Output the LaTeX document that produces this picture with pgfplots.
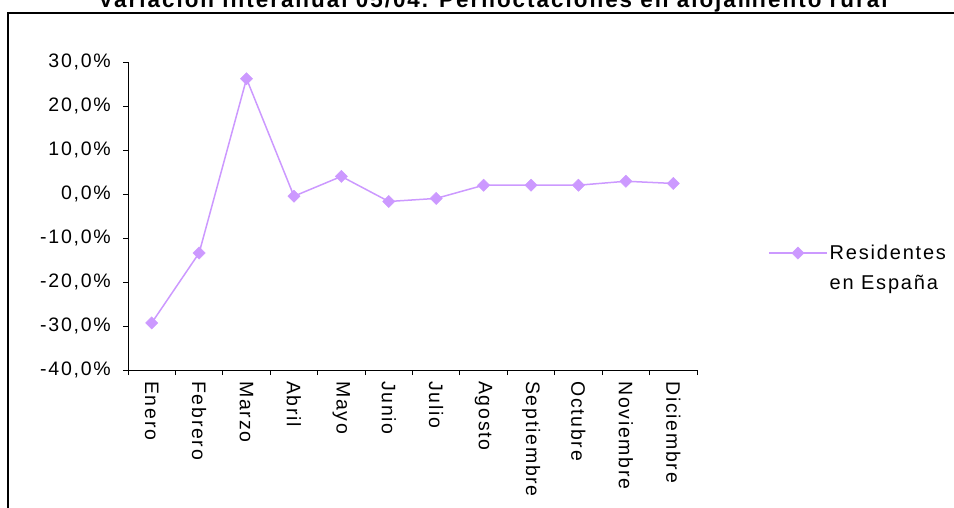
\documentclass[border=0pt]{standalone}
\usepackage{fontspec}
\setmainfont{Liberation Sans}[LetterSpace=9]
\usepackage{pgfplots}
\pgfplotsset{compat=1.18}
\definecolor{lila}{HTML}{CC99FF}

\begin{document}
\begin{tikzpicture}[x=1pt,y=1pt]
  \useasboundingbox (0,0) rectangle (954,-507);
  % chart frame, cropped at right and bottom
  \draw[line width=2pt] (8,-700) -- (8,-13) -- (1200,-13);
  \node[anchor=base, font=\bfseries\fontsize{22.4}{26}\selectfont] at (493,-7)
    {Variación interanual 05/04. Pernoctaciones en alojamiento rural};

  \begin{axis}[
    scale only axis,
    width=569pt, height=308pt,
    at={(128pt,-370pt)}, anchor=south west,
    xmin=0.5, xmax=12.5,
    ymin=-40, ymax=30,
    axis x line*=bottom, axis y line*=left,
    axis line style={-, line width=1pt, black},
    font=\fontsize{19.5}{22}\selectfont,
    tick align=outside,
    major tick length=5pt,
    tick style={black, line width=1pt},
    ytick={-40,-30,...,30},
    yticklabels={{-40,0\%},{-30,0\%},{-20,0\%},{-10,0\%},{0,0\%},{10,0\%},{20,0\%},{30,0\%}},
    yticklabel style={inner sep=0pt, xshift=-12pt},
    xtick={0.5,1.5,...,12.5},
    xticklabels={},
    extra x ticks={1,2,...,12},
    extra x tick labels={Enero,Febrero,Marzo,Abril,Mayo,Junio,Julio,Agosto,Septiembre,Octubre,Noviembre,Diciembre},
    extra x tick style={major tick length=0pt,
      xticklabel style={rotate=-90, anchor=west, inner sep=0pt, xshift=11pt}},
    legend style={draw=none, fill=none, inner sep=0pt,
      at={(rel axis cs:1.1248,0.331)}, anchor=west,
      cells={align=left}, font=\fontsize{20}{30}\selectfont},
    legend image code/.code={
      \draw[mark repeat=2, mark phase=2, yshift=15pt] plot coordinates {(0pt,0pt) (29pt,0pt) (58pt,0pt)};
    },
  ]
    \addplot[lila, line width=1.5pt, mark=square*,
      mark options={rotate=45, fill=lila, draw=lila, line width=0.5pt}, mark size=4.3pt]
      coordinates {
        (1,-29.3) (2,-13.4) (3,26.2) (4,-0.5) (5,4.0) (6,-1.7)
        (7,-1.0) (8,2.0) (9,2.0) (10,2.0) (11,2.9) (12,2.4)
      };
    \addlegendentry{Residentes\\en España}
  \end{axis}
\end{tikzpicture}
\end{document}
